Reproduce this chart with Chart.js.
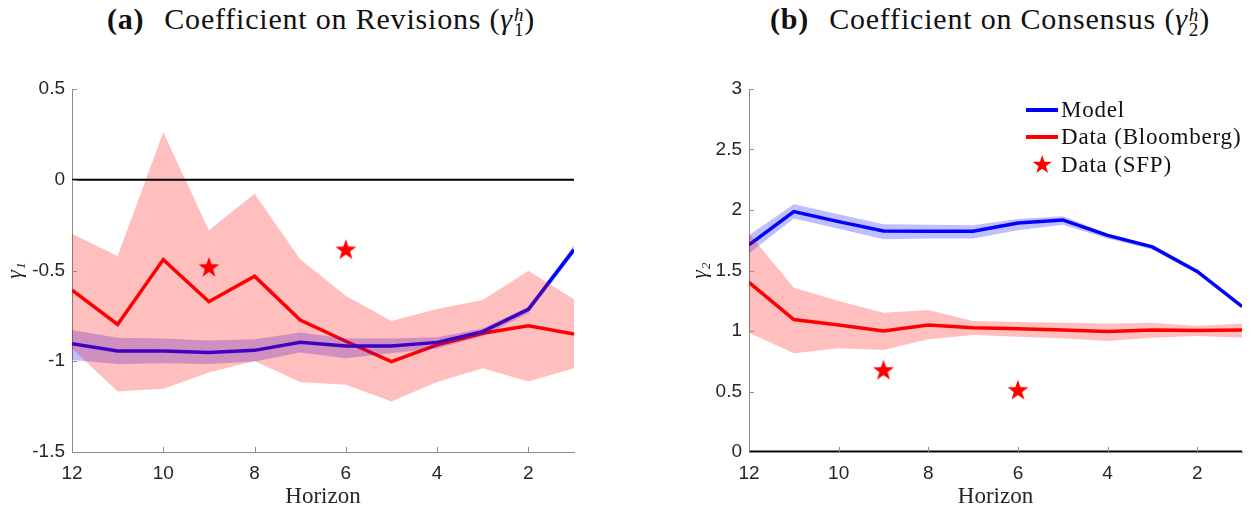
<!DOCTYPE html>
<html>
<head>
<meta charset="utf-8">
<script src="https://cdn.jsdelivr.net/npm/chart.js@4"></script>
<style>
  body { margin: 0; background: #fff; }
  #wrap { position: relative; width: 1254px; height: 514px; overflow: hidden; }
  canvas { position: absolute; top: 60px; }
  .title { position: absolute; top: 2px; text-align: center; font-family: 'Liberation Serif', serif; font-size: 30px; letter-spacing: 0.8px; color: #111; white-space: nowrap; }
  .title b { margin-right: 20px; }
  .gam { font-style: italic; }
  .ss { display: inline-block; vertical-align: -7px; line-height: 15px; font-size: 19px; text-align: left; margin-left: 1px; }
  .ss span { display: block; }
  .ss .h { font-style: italic; }
  #legend { position: absolute; left: 1026px; top: 96px; font-family: 'Liberation Serif', serif; font-size: 23px; letter-spacing: 0.8px; color: #111; }
  #legend .row { display: flex; align-items: center; height: 27.5px; }
  #legend .ln { width: 32px; height: 4px; margin-right: 3px; }
  #legend .st { width: 32px; text-align: center; color: #f00; font-size: 25px; margin-right: 3px; }
</style>
</head>
<body>
<div id="wrap">
  <div class="title" style="left:0; width:642px;"><b>(a)</b>Coefficient on Revisions (<span class="gam">γ</span><span class="ss"><span class="h">h</span><span>1</span></span>)</div>
  <div class="title" style="left:727px; width:526px;"><b>(b)</b>Coefficient on Consensus (<span class="gam">γ</span><span class="ss"><span class="h">h</span><span>2</span></span>)</div>
  <canvas id="left" width="627" height="454" style="left:0"></canvas>
  <canvas id="right" width="627" height="454" style="left:627px"></canvas>
  <div id="legend">
    <div class="row"><div class="ln" style="background:#0000ff"></div>Model</div>
    <div class="row"><div class="ln" style="background:#ff0000"></div>Data (Bloomberg)</div>
    <div class="row"><div class="st">★</div>Data (SFP)</div>
  </div>
</div>
<script>
// horizons run from 12 down to 1
const horizons = [12, 11, 10, 9, 8, 7, 6, 5, 4, 3, 2, 1];
const xTicks = [12, 10, 8, 6, 4, 2];
const sfpHorizons = [9, 6];

// panel (a): coefficient on revisions
const revModel   = [-0.903, -0.943, -0.943, -0.952, -0.940, -0.896, -0.916, -0.916, -0.896, -0.837, -0.714, -0.385];
const revModelHi = [-0.828, -0.870, -0.875, -0.886, -0.879, -0.842, -0.874, -0.875, -0.868, -0.819, -0.700, -0.361];
const revModelLo = [-0.993, -1.015, -1.011, -1.015, -1.002, -0.952, -0.984, -0.956, -0.930, -0.861, -0.736, -0.407];
const revData    = [-0.608, -0.797, -0.440, -0.672, -0.531, -0.773, -0.890, -1.002, -0.910, -0.846, -0.804, -0.850];
const revDataHi  = [-0.297, -0.420, 0.262, -0.278, -0.077, -0.438, -0.639, -0.778, -0.712, -0.663, -0.502, -0.659];
const revDataLo  = [-0.930, -1.167, -1.152, -1.062, -0.998, -1.115, -1.130, -1.222, -1.115, -1.038, -1.112, -1.038];
const revSfp     = [-0.480, -0.383];
const revTicks   = [-1.5, -1, -0.5, 0, 0.5];

// panel (b): coefficient on consensus
const conModel   = [1.712, 1.987, 1.904, 1.827, 1.824, 1.824, 1.893, 1.918, 1.790, 1.695, 1.492, 1.203];
const conModelHi = [1.791, 2.047, 1.964, 1.882, 1.879, 1.874, 1.926, 1.948, 1.805, 1.706, 1.503, 1.214];
const conModelLo = [1.640, 1.929, 1.846, 1.758, 1.764, 1.764, 1.832, 1.879, 1.764, 1.673, 1.475, 1.187];
const conData    = [1.402, 1.095, 1.049, 1.000, 1.049, 1.027, 1.019, 1.008, 0.995, 1.008, 1.005, 1.008];
const conDataHi  = [1.805, 1.357, 1.247, 1.151, 1.173, 1.082, 1.074, 1.069, 1.063, 1.069, 1.041, 1.063];
const conDataLo  = [0.986, 0.816, 0.857, 0.843, 0.931, 0.967, 0.953, 0.940, 0.918, 0.945, 0.959, 0.945];
const conSfp     = [0.679, 0.514];
const conTicks   = [0, 0.5, 1, 1.5, 2, 2.5, 3];

const AXIS = '#8c8c8c';
const TXT = '#262626';

function pts(xs, ys) {
  return xs.map((x, i) => ({ x: x, y: ys[i] }));
}

// filled five point star, like the matlab pentagram marker
function starImage(r, color) {
  const c = document.createElement('canvas');
  c.width = c.height = Math.ceil(2 * r + 2);
  const g = c.getContext('2d');
  const cx = c.width / 2, cy = c.height / 2 + r * 0.08;
  g.beginPath();
  for (let k = 0; k < 10; k++) {
    const rad = k % 2 === 0 ? r : r * 0.4;
    const a = -Math.PI / 2 + k * Math.PI / 5;
    const px = cx + rad * Math.cos(a), py = cy + rad * Math.sin(a);
    if (k === 0) g.moveTo(px, py); else g.lineTo(px, py);
  }
  g.closePath();
  g.fillStyle = color;
  g.fill();
  return c;
}
const star = starImage(11, '#ff0000');

// small inward tick marks (matlab style)
const inTicks = {
  id: 'inTicks',
  afterDraw(chart) {
    const { ctx, chartArea: a, scales } = chart;
    ctx.save();
    ctx.strokeStyle = AXIS;
    ctx.lineWidth = 1;
    ctx.beginPath();
    scales.x.ticks.forEach(t => {
      const px = Math.round(scales.x.getPixelForValue(t.value)) + 0.5;
      ctx.moveTo(px, a.bottom);
      ctx.lineTo(px, a.bottom - 5);
    });
    scales.y.ticks.forEach(t => {
      const py = Math.round(scales.y.getPixelForValue(t.value)) + 0.5;
      ctx.moveTo(a.left, py);
      ctx.lineTo(a.left + 5, py);
    });
    ctx.stroke();
    ctx.restore();
  }
};

function makeChart(id, opt) {
  const datasets = [
    { // 0 zero line
      data: pts(horizons, horizons.map(() => 0)),
      borderColor: '#000', borderWidth: opt.zeroWidth, pointRadius: 0, order: 0
    },
    { // 1 data line (bloomberg)
      data: pts(horizons, opt.data),
      borderColor: '#ff0000', borderWidth: 3.5, pointRadius: 0, order: 5
    },
    { // 2 model band upper
      data: pts(horizons, opt.modelHi),
      borderWidth: 0, pointRadius: 0, fill: 3, backgroundColor: 'rgba(0,0,255,0.25)', order: 4
    },
    { // 3 model band lower
      data: pts(horizons, opt.modelLo),
      borderWidth: 0, pointRadius: 0, fill: false, order: 4
    },
    { // 4 model line
      data: pts(horizons, opt.model),
      borderColor: '#0000ff', borderWidth: 3.5, pointRadius: 0, order: 3
    },
    { // 5 data band upper
      data: pts(horizons, opt.dataHi),
      borderWidth: 0, pointRadius: 0, fill: 6, backgroundColor: 'rgba(255,0,0,0.25)', order: 2
    },
    { // 6 data band lower
      data: pts(horizons, opt.dataLo),
      borderWidth: 0, pointRadius: 0, fill: false, order: 2
    },
    { // 7 SFP stars
      data: pts(sfpHorizons, opt.sfp),
      showLine: false, pointStyle: star, pointRadius: 11, order: 1
    }
  ];

  return new Chart(document.getElementById(id), {
    type: 'line',
    data: { datasets: datasets },
    options: {
      responsive: false,
      animation: false,
      devicePixelRatio: 1,
      layout: { padding: { left: opt.padLeft, right: opt.padRight, top: 29, bottom: 0 } },
      plugins: { legend: { display: false }, tooltip: { enabled: false } },
      elements: { line: { tension: 0 } },
      scales: {
        x: {
          type: 'linear', reverse: true, min: 1, max: 12,
          afterBuildTicks: s => { s.ticks = xTicks.map(v => ({ value: v })); },
          afterFit: s => { s.height = 62; },
          grid: { display: false, drawTicks: false },
          border: { display: true, color: AXIS, width: 1 },
          ticks: { padding: 10, color: TXT, autoSkip: false, maxRotation: 0,
                   font: { family: 'Liberation Sans', size: 19 } },
          title: { display: true, text: 'Horizon', color: TXT,
                   font: { family: 'Liberation Serif', size: 23 }, padding: { top: 0, bottom: 3 } }
        },
        y: {
          type: 'linear', min: opt.yTicks[0], max: opt.yTicks[opt.yTicks.length - 1],
          afterBuildTicks: s => { s.ticks = opt.yTicks.map(v => ({ value: v })); },
          afterFit: s => { s.width = opt.yWidth; },
          grid: { display: false, drawTicks: false },
          border: { display: true, color: AXIS, width: 1 },
          ticks: { padding: 7, color: TXT, callback: v => String(v),
                   font: { family: 'Liberation Sans', size: 19 } },
          title: { display: true, text: opt.yTitle, color: TXT,
                   font: { family: 'Liberation Serif', size: 22, style: 'italic' },
                   padding: { top: opt.yTitlePad, bottom: 0 } }
        }
      }
    },
    plugins: [inTicks]
  });
}

makeChart('left', {
  model: revModel, modelHi: revModelHi, modelLo: revModelLo,
  data: revData, dataHi: revDataHi, dataLo: revDataLo, sfp: revSfp,
  yTicks: revTicks, yTitle: 'γ₁', yWidth: 72, yTitlePad: 2,
  padLeft: 0, padRight: 53, zeroWidth: 2.2
});

makeChart('right', {
  model: conModel, modelHi: conModelHi, modelLo: conModelLo,
  data: conData, dataHi: conDataHi, dataLo: conDataLo, sfp: conSfp,
  yTicks: conTicks, yTitle: 'γ₂', yWidth: 62, yTitlePad: 0,
  padLeft: 60, padRight: 3, zeroWidth: 3
});
</script>
</body>
</html>
